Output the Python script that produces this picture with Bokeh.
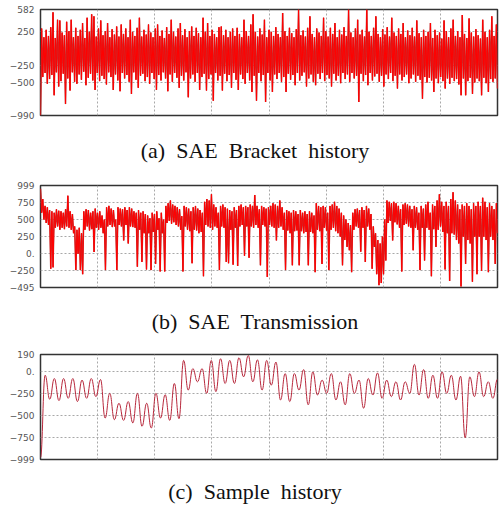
from bokeh.plotting import figure
from bokeh.models import Range1d, FixedTicker, Div
from bokeh.layouts import column
from bokeh.embed import file_html
from bokeh.resources import INLINE

# ---- data ----
a_ticks = [582, 250, -250, -500, -990]
b_ticks = [999, 750, 500, 250, 0, -250, -495]
c_ticks = [190, 0, -250, -500, -750, -999]
zero_label = "0."

captions = ["(a)&nbsp; SAE&nbsp; Bracket&nbsp; history",
            "(b)&nbsp; SAE&nbsp; Transmission",
            "(c)&nbsp; Sample&nbsp; history"]

# (a) SAE Bracket history: alternating highs / lows of the dense signal
a_vals = [-990,
    300, -420, 170, -360, 280, -520, 190, -450, 320, -390, 540, -690, 160, -350, 430, -560, 420, -480, 240, -370,
    200, -820, 400, -440, 260, -620, 430, -350, 170, -490, 310, -520, 190, -380, 280, -460, 380, -340, 160, -540,
    460, -430, 250, -370, 510, -470, 480, -610, 180, -360, 300, -480, 420, -400, 200, -450, 260, -530, 380, -350,
    170, -420, 290, -610, 210, -380, 330, -470, 180, -630, 360, -360, 220, -440, 300, -390, 170, -490, 430, -670,
    250, -350, 190, -460, 310, -580, 460, -400, 180, -370, 280, -480, 210, -420, 360, -520, 240, -360, 170, -450,
    300, -610, 360, -390, 190, -470, 270, -350, 160, -440, 320, -630, 220, -380, 430, -490, 250, -360, 180, -430,
    300, -580, 380, -400, 200, -470, 290, -350, 170, -720, 260, -440, 330, -380, 190, -490, 310, -360, 230, -610,
    170, -420, 460, -370, 250, -620, 380, -450, 190, -380, 280, -770, 220, -360, 170, -470, 320, -400, 330, -620,
    200, -370, 280, -480, 170, -390, 250, -580, 300, -360, 190, -460, 310, -610, 220, -380, 170, -450, 430, -520,
    260, -360, 190, -470, 360, -640, 510, -400, 250, -770, 180, -360, 300, -480, 210, -390, 430, -790, 170, -360,
    280, -470, 250, -640, 190, -380, 320, -450, 220, -360, 170, -490, 530, -420, 260, -640, 190, -370, 310, -460,
    230, -390, 170, -540, 290, -360, 580, -470, 200, -400, 270, -350, 180, -560, 310, -440, 480, -380, 220, -490,
    170, -540, 300, -370, 240, -450, 190, -360, 460, -480, 260, -390, 180, -440, 310, -560, 220, -370, 380, -470,
    170, -400, 280, -510, 210, -360, 320, -450, 190, -380, 580, -490, 240, -360, 170, -440, 300, -400, 430, -790,
    210, -370, 280, -480, 180, -390, 580, -540, 250, -360, 190, -470, 310, -410, 480, -370, 220, -490, 170, -400,
    290, -560, 210, -380, 320, -450, 180, -360, 460, -480, 240, -400, 190, -590, 300, -380, 220, -470, 380, -420,
    170, -380, 270, -510, 200, -440, 310, -380, 180, -490, 420, -400, 230, -460, 170, -740, 280, -420, 190, -500,
    250, -430, 380, -470, 160, -640, 280, -440, 200, -510, 240, -420, 150, -480, 420, -590, 260, -440, 170, -520,
    300, -430, 430, -480, 190, -450, 260, -530, 170, -690, 500, -440, 220, -690, 160, -480, 450, -430, 240, -670,
    180, -500, 290, -440, 200, -480, 150, -690, 430, -430, 250, -510, 170, -640, 280, -450, 480, -490, 190, -440,
    360, -590]

# (b) SAE Transmission: alternating highs / lows
b_vals = [
    950, 600, 800, 500, 700, 450, 680, 420, 640, -220, 620, -200, 600, 380, 650, 400, 630, 350, 620, 380,
    600, 360, 650, 400, 850, 380, 620, 350, 580, 300, 400, -240, 350, 0, 380, -240, 300, -300, 620, 350,
    650, 400, 640, 340, 600, 360, 620, 25, 660, 380, 600, 350, 620, 380, 560, 300, 500, -240, 680, 400,
    700, 420, 660, 390, 640, 400, 500, -240, 680, 420, 660, 400, 650, 195, 680, 420, 640, 150, 680, 400,
    660, 390, 620, 380, 600, -190, 640, 350, 600, -120, 620, 300, 580, -230, 560, 300, 520, -240, 600, 320,
    580, -150, 620, 350, 520, -260, 600, 300, 500, -260, 700, 450, 740, 480, 780, 440, 720, 460, 700, 420,
    680, 400, 650, 350, 550, -260, 700, 400, 680, 350, 660, 330, 620, -140, 680, 350, 700, 340, 660, 300,
    640, 320, 600, -330, 760, 420, 800, 400, 780, 380, 870, 350, 720, 400, 680, 380, 600, -240, 700, 400,
    720, 380, 680, -120, 660, -140, 640, 350, 620, -160, 680, 380, 640, -180, 700, 400, 720, 420, 680, -30,
    700, 400, 680, -60, 720, 400, 700, 380, 860, 420, 700, 380, 650, -170, 700, 420, 680, 400, 660, -340,
    680, 420, 700, 400, 740, 380, 720, 195, 700, 380, 780, 400, 680, 350, 600, -240, 640, 340, 620, 300,
    600, -170, 640, 330, 620, 340, 580, -170, 640, 330, 600, 300, 620, 320, 580, -170, 620, 320, 600, 300,
    560, -270, 740, 350, 700, 330, 680, -150, 700, 380, 680, 340, 600, -240, 700, 350, 720, 380, 760, 330,
    700, 300, 660, 250, 600, -170, 560, 200, 500, 100, 450, 50, 420, -270, 600, 350, 650, 400, 660, 380,
    640, 30, 680, 380, 640, -120, 700, 400, 660, 350, 580, -220, 400, 100, 300, -300, 200, -460, 150, -430,
    250, -300, 500, -100, 780, 450, 760, 480, 740, 195, 760, 460, 740, 430, 700, 380, 650, -260, 720, 420,
    740, 440, 720, 400, 700, 380, 650, 50, 700, 380, 680, 350, 600, -240, 700, 380, 660, -100, 720, 380,
    760, 350, 600, -330, 720, 360, 700, 100, 780, 350, 870, 400, 760, 320, 700, -230, 760, 300, 700, -400,
    800, 300, 900, 280, 780, 200, 720, 150, 650, -480, 720, 250, 700, -150, 740, 200, 700, 150, 650, -410,
    740, 250, 700, -300, 760, 250, 700, -250, 820, 250, 760, 200, 680, -270, 740, 250, 700, 200, 650, -150,
    740, 300]

# (c) Sample history: successive peaks and troughs
c_vals = [
    -977, -45, -317, -82, -332, -82, -306, -82, -343, -100, -306, -82, -287, -93,
    -530, -250, -548, -362, -556, -343, -585, -250, -623, -362, -642, -250, -530, -265, -556, -138, -537,
    123, -213, 30, -119, 30, -250, 123, -231, 142, -138, 123, -138, 153, -63, 179, -119, 130, -213, 123, -157, 104,
    -325, -26, -343, -26, -213, 19, -380, -7, -269, -100, -250, -26, -325, -119, -380, -26, -250, -100, -418, -82,
    -269, -19, -306, -100, -287, -119, -325, -119, -250, 78, -269, 19, -306, -45, -306, -7, -250, -45, -325, -56,
    -753, -63, -287, -7, -287, -119, -306, -90]

W = 499


def panel(vals, ticks, b_left, b_top, b_bottom, frame_h):
    n = len(vals)
    p = figure(width=W, height=b_top + frame_h + b_bottom,
               output_backend="svg", toolbar_location=None,
               x_range=Range1d(0, n - 1), y_range=Range1d(min(ticks), max(ticks)),
               min_border_left=b_left, min_border_right=2,
               min_border_top=b_top, min_border_bottom=b_bottom)
    p.xaxis.visible = False
    p.xgrid.ticker = FixedTicker(ticks=[(n - 1) * i / 8 for i in range(1, 8)])
    p.yaxis.ticker = FixedTicker(ticks=ticks)
    p.yaxis.major_label_overrides = {0: zero_label}
    p.yaxis.major_tick_line_color = None
    p.yaxis.minor_tick_line_color = None
    p.yaxis.major_tick_out = 0
    p.yaxis.axis_line_color = None
    p.yaxis.major_label_text_font = "DejaVu Sans"
    p.yaxis.major_label_text_font_size = "9px"
    p.yaxis.major_label_text_color = "#555555"
    p.yaxis.major_label_standoff = 6
    for g in (p.xgrid, p.ygrid):
        g.grid_line_color = "#a8a8a8"
        g.grid_line_dash = "2 2"
        g.grid_line_width = 1
    p.outline_line_color = "#333333"
    p.outline_line_width = 1.5
    p.outline_line_alpha = 1
    p.background_fill_color = "white"
    p.border_fill_color = "white"
    return p


def dense_line(p, vals):
    xs = list(range(len(vals)))
    p.line(xs, vals, line_color="#b04040", line_width=1.5)
    p.line(xs, vals, line_color="#ff0000", line_width=1.0)


def smooth_wave(p, vals):
    n = len(vals)
    x0 = list(range(n - 1))
    x1 = list(range(1, n))
    y0 = vals[:-1]
    y1 = vals[1:]
    cx0 = [x + 0.45 for x in x0]
    cx1 = [x - 0.45 for x in x1]
    p.bezier(x0=x0, y0=y0, x1=x1, y1=y1, cx0=cx0, cy0=y0, cx1=cx1, cy1=y1,
             line_color="#b8283c", line_width=1.0)


def caption(text):
    return Div(text=text, width=W, height=22, margin=(0, 0, 0, 0),
               styles={"text-align": "center", "font-family": "Liberation Serif",
                       "font-size": "22px", "line-height": "22px", "color": "#111111",
                       "padding-left": "11px"})


pa = panel(a_vals, a_ticks, 36, 9, 25, 106)
dense_line(pa, a_vals)
pb = panel(b_vals, b_ticks, 40, 23, 24, 102)
dense_line(pb, b_vals)
pc = panel(c_vals, c_ticks, 33, 21, 22, 105)
smooth_wave(pc, c_vals)

layout = column(pa, caption(captions[0]), pb, caption(captions[1]), pc, caption(captions[2]),
                spacing=0)

open("out.html", "w").write(file_html(layout, INLINE))
